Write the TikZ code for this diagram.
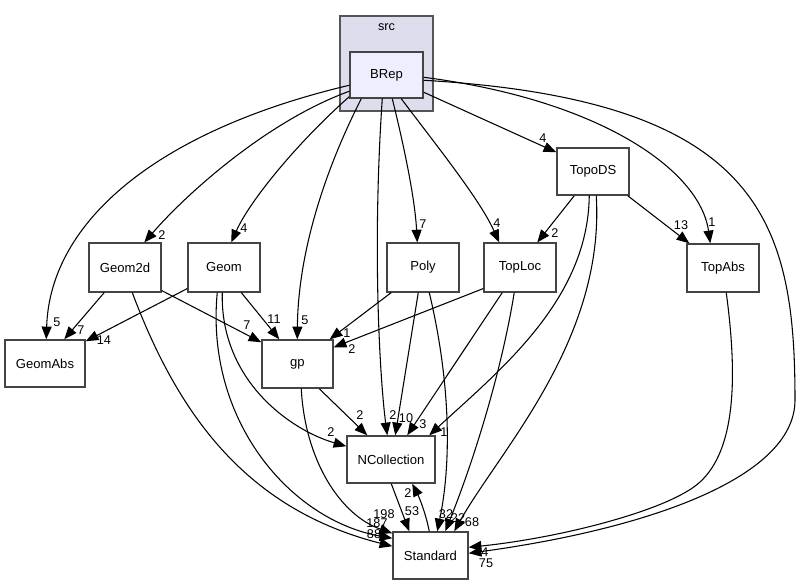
\documentclass[tikz,border=0pt]{standalone}
\usepackage{fontspec}
\setmainfont{Liberation Sans}
\usetikzlibrary{calc,arrows.meta}
\definecolor{clusterfill}{HTML}{DDDDEE}
\definecolor{clusterline}{HTML}{555555}
\definecolor{mainfill}{HTML}{EEEEFF}
\definecolor{boxline}{HTML}{444444}
\begin{document}
\begin{tikzpicture}[x=0.75pt,y=-0.75pt,
  box/.style={draw=boxline,line width=1.1pt,fill=white,inner sep=0pt,font=\fontsize{9.8}{11}\selectfont,
    minimum width=54pt,minimum height=36.5pt},
  dep/.style={line width=0.8pt,-{Triangle[length=9.5pt,width=7.5pt]}},
  lbl/.style={inner sep=0pt,font=\fontsize{9.5}{11}\selectfont}]
\useasboundingbox (0,0) rectangle (801,585);
% cluster
\node[draw=clusterline,line width=1.1pt,fill=clusterfill,minimum width=69.75pt,minimum height=71.25pt,inner sep=0pt] (src) at (386.5,63.5) {};
\node[lbl] (srclbl) at (386.5,27) {src};
% nodes
\node[box,fill=mainfill,minimum width=54.75pt,minimum height=34.5pt] (BRep) at (386.5,75) {BRep};
\node[box,minimum height=35.25pt] (TopoDS) at (593,171.5) {TopoDS};
\node[box] (Geom2d) at (125,267.5) {Geom2d};
\node[box] (Geom) at (224,267.5) {Geom};
\node[box] (Poly) at (423,267.5) {Poly};
\node[box] (TopLoc) at (520,267.5) {TopLoc};
\node[box,minimum height=36pt] (TopAbs) at (723,268) {TopAbs};
\node[box,minimum width=60pt,minimum height=35.25pt] (GeomAbs) at (45,363.5) {GeomAbs};
\node[box,minimum width=53.25pt,minimum height=36pt] (gp) at (297.5,364) {gp};
\node[box,minimum width=66pt,minimum height=35.25pt] (NCollection) at (391,459.5) {NCollection};
\node[box,minimum width=56.25pt,minimum height=35.25pt] (Standard) at (430.5,555.5) {Standard};
% edges from BRep
\draw[dep] ($(BRep.north west)+(0,34)$) .. controls (160,130) and (50,220) .. ($(GeomAbs.north west)+(42,0)$);
\draw[dep] ($(BRep.north west)+(0,40)$) .. controls (270,120) and (190,190) .. ($(Geom2d.north west)+(56,0)$);
\draw[dep] ($(BRep.south west)+(0,-2)$) .. controls (300,140) and (250,200) .. ($(Geom.north west)+(44,0)$);
\draw[dep] ($(BRep.south west)+(12,0)$) .. controls (320,180) and (298,260) .. ($(gp.north west)+(36,0)$);
\draw[dep] ($(BRep.south west)+(33,0)$) .. controls (372,250) and (380,380) .. ($(NCollection.north west)+(41,0)$);
\draw[dep] ($(BRep.south west)+(43,0)$) .. controls (405,150) and (415,200) .. ($(Poly.north west)+(31,0)$);
\draw[dep] ($(BRep.south west)+(52,0)$) .. controls (440,150) and (480,200) .. ($(TopLoc.north west)+(16,0)$);
\draw[dep] ($(BRep.north east)+(0,41)$) -- ($(TopoDS.north west)+(0,5)$);
\draw[dep] ($(BRep.north east)+(0,26)$) .. controls (600,100) and (700,170) .. ($(TopAbs.north west)+(24,0)$);
\draw[dep] ($(BRep.north east)+(0,29)$) .. controls (760,100) and (795,220) .. (795,400)
  .. controls (795,480) and (640,530) .. ($(Standard.north east)+(0,22)$);
% TopoDS
\draw[dep] ($(TopoDS.south west)+(18,0)$) -- ($(TopLoc.north west)+(54,0)$);
\draw[dep] ($(TopoDS.south east)+(-2,0)$) -- ($(TopAbs.north west)+(3,0)$);
\draw[dep] ($(TopoDS.south west)+(33,0)$) .. controls (588,300) and (500,370) .. ($(NCollection.north west)+(83,0)$);
\draw[dep] ($(TopoDS.south west)+(40,0)$) .. controls (605,340) and (500,450) .. ($(Standard.north west)+(62,0)$);
% TopAbs
\draw[dep] ($(TopAbs.south west)+(40,0)$) .. controls (738,380) and (735,450) .. (700,482)
  .. controls (670,510) and (560,538) .. ($(Standard.north east)+(0,16)$);
% TopLoc
\draw[dep] ($(TopLoc.south west)+(0,-4)$) -- ($(gp.north east)+(0,8)$);
\draw[dep] ($(TopLoc.south west)+(19,0)$) -- ($(NCollection.north west)+(61,0)$);
\draw[dep] ($(TopLoc.south west)+(31,0)$) .. controls (500,380) and (470,470) .. ($(Standard.north west)+(53,0)$);
% Poly
\draw[dep] ($(Poly.south west)+(5,0)$) -- ($(gp.north east)+(-4,0)$);
\draw[dep] ($(Poly.south west)+(32,0)$) -- ($(NCollection.north west)+(49,0)$);
\draw[dep] ($(Poly.south west)+(43,0)$) .. controls (450,380) and (452,460) .. ($(Standard.north west)+(45,0)$);
% Geom2d
\draw[dep] ($(Geom2d.south west)+(16,0)$) -- ($(GeomAbs.north west)+(60,0)$);
\draw[dep] ($(Geom2d.south east)+(0,-2)$) -- ($(gp.north west)+(0,3)$);
\draw[dep] ($(Geom2d.south west)+(44,0)$) .. controls (180,420) and (250,510) .. ($(Standard.north west)+(0,15)$);
% Geom
\draw[dep] ($(Geom.south west)+(0,-4)$) -- ($(GeomAbs.north east)+(0,2)$);
\draw[dep] ($(Geom.south west)+(54,0)$) -- ($(gp.north west)+(18,0)$);
\draw[dep] ($(Geom.south west)+(35,0)$) .. controls (220,380) and (290,430) .. ($(NCollection.north west)+(0,11)$);
\draw[dep] ($(Geom.south west)+(30,0)$) .. controls (205,420) and (290,520) .. ($(Standard.north west)+(0,7)$);
% gp
\draw[dep] ($(gp.south west)+(58,0)$) -- ($(NCollection.north west)+(21,0)$);
\draw[dep] ($(gp.south west)+(40,0)$) .. controls (305,460) and (340,515) .. ($(Standard.north west)+(0,2)$);
% NCollection <-> Standard
\draw[dep] ($(NCollection.south west)+(45,0)$) -- ($(Standard.north west)+(17,0)$);
\draw[dep] ($(Standard.north west)+(37,0)$) .. controls (425,510) and (418,495) .. ($(NCollection.south west)+(66,0)$);
% labels
\node[lbl] (l1) at (57,322) {5};
\node[lbl] (l2) at (81,330) {7};
\node[lbl] (l3) at (104,340) {14};
\node[lbl] (l4) at (162,235) {2};
\node[lbl] (l5) at (244,228) {4};
\node[lbl] (l6) at (247,325) {7};
\node[lbl] (l7) at (274,319) {11};
\node[lbl] (l8) at (305,320) {5};
\node[lbl] (l9) at (347,333) {1};
\node[lbl] (l10) at (352,349) {2};
\node[lbl] (l11) at (423,224) {7};
\node[lbl] (l12) at (497,223) {4};
\node[lbl] (l13) at (555,233) {2};
\node[lbl] (l14) at (681,225) {13};
\node[lbl] (l15) at (712,222) {1};
\node[lbl] (l16) at (543,138) {4};
\node[lbl] (l17) at (360,415) {2};
\node[lbl] (l18) at (393,415) {2};
\node[lbl] (l19) at (406,418) {10};
\node[lbl] (l20) at (423,424) {3};
\node[lbl] (l21) at (444,432) {1};
\node[lbl] (l22) at (331,432) {2};
\node[lbl] (l23) at (408,493) {2};
\node[lbl] (l24) at (412,511) {53};
\node[lbl] (l25) at (446,514) {32};
\node[lbl] (l26) at (458,518) {22};
\node[lbl] (l27) at (472,522) {68};
\node[lbl] (l28) at (384,514) {198};
\node[lbl] (l29) at (377,523) {187};
\node[lbl] (l30) at (374,534) {88};
\node[lbl] (l31) at (485,552) {4};
\node[lbl] (l32) at (486,563) {75};
\end{tikzpicture}
\end{document}
